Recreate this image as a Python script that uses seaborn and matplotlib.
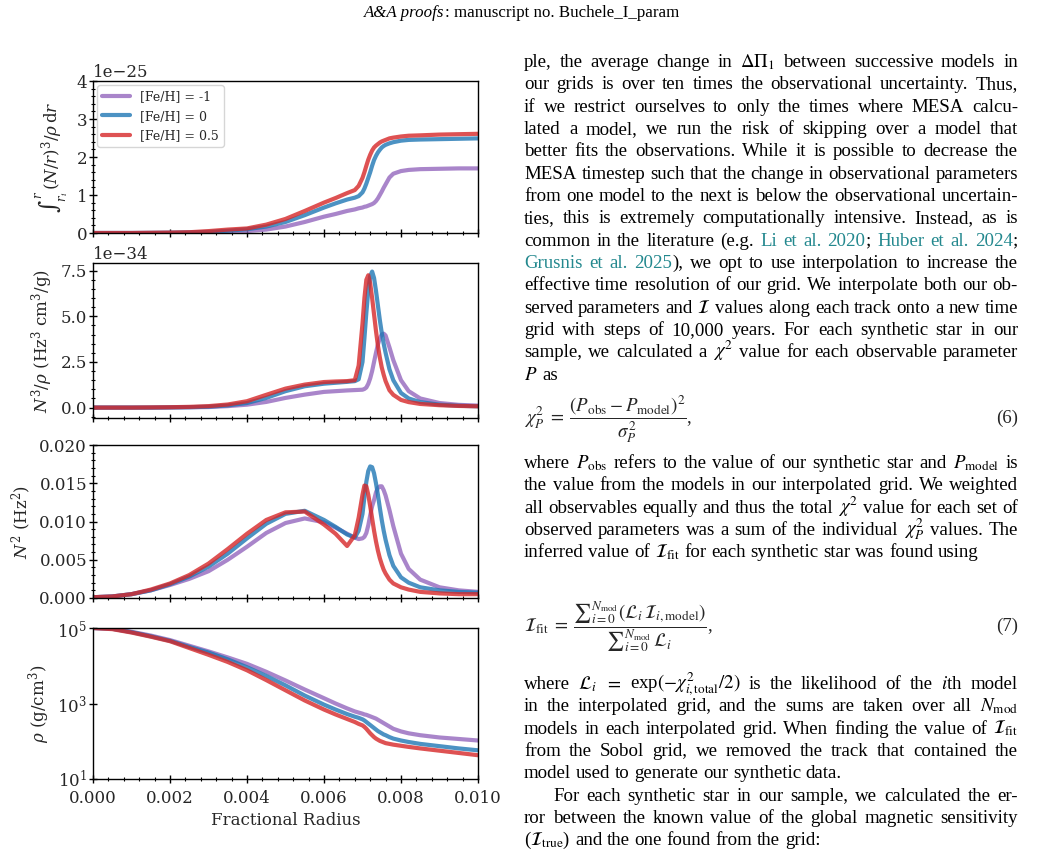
import numpy as np
import pandas as pd
import matplotlib
matplotlib.use('Agg')
import matplotlib.pyplot as plt
from matplotlib.ticker import MultipleLocator, NullLocator, NullFormatter
import seaborn as sns

# fractional radius grid (shared by every profile)
r = [0, 0.0005, 0.001, 0.0015, 0.002, 0.0025, 0.003, 0.0035, 0.004, 0.0045,
     0.005, 0.0055, 0.006, 0.0063, 0.0066, 0.0068, 0.0069,
     0.0070, 0.00705, 0.0071, 0.00715, 0.0072, 0.00725, 0.0073, 0.00735,
     0.0074, 0.00745, 0.0075, 0.00755, 0.0076,
     0.0077, 0.0078, 0.0080, 0.0082, 0.0085, 0.009, 0.0095, 0.010]

labels = ['[Fe/H] = -1', '[Fe/H] = 0', '[Fe/H] = 0.5']
colors = ['tab:purple', 'tab:blue', 'tab:red']

# integral of (N/r)^3/rho dr, units of 1e-25
int_m1 = [0, 0, 0, 0.002, 0.005, 0.01, 0.02, 0.035, 0.05, 0.09,
          0.17, 0.29, 0.43, 0.5, 0.58, 0.62, 0.65,
          0.67, 0.69, 0.70, 0.72, 0.74, 0.76, 0.79, 0.84,
          0.91, 1.0, 1.09, 1.19, 1.28,
          1.46, 1.56, 1.63, 1.66, 1.68, 1.69, 1.70, 1.70]
int_0 = [0, 0, 0, 0.003, 0.007, 0.015, 0.03, 0.06, 0.1, 0.17,
         0.29, 0.47, 0.67, 0.78, 0.88, 0.93, 0.97,
         1.07, 1.17, 1.30, 1.45, 1.60, 1.77, 1.92, 2.03,
         2.12, 2.19, 2.25, 2.29, 2.32,
         2.36, 2.39, 2.43, 2.45, 2.46, 2.47, 2.48, 2.49]
int_p05 = [0, 0, 0, 0.005, 0.01, 0.02, 0.05, 0.09, 0.12, 0.22,
           0.37, 0.58, 0.80, 0.92, 1.05, 1.13, 1.24,
           1.45, 1.60, 1.77, 1.93, 2.06, 2.17, 2.25, 2.30,
           2.34, 2.38, 2.41, 2.43, 2.45,
           2.49, 2.51, 2.54, 2.56, 2.57, 2.59, 2.60, 2.61]

# N^3/rho, units of 1e-34
n3_m1 = [0, 0, 0, 0, 0.01, 0.02, 0.03, 0.08, 0.16, 0.31,
         0.53, 0.71, 0.86, 0.90, 0.94, 0.96, 0.97,
         0.98, 1.02, 1.10, 1.30, 1.60, 2.0, 2.5, 3.0,
         3.45, 3.8, 4.0, 4.05, 3.95,
         3.3, 2.6, 1.5, 0.9, 0.5, 0.25, 0.15, 0.11]
n3_0 = [0, 0, 0, 0, 0.01, 0.02, 0.05, 0.12, 0.25, 0.53,
        0.90, 1.17, 1.31, 1.36, 1.41, 1.45, 1.55,
        2.5, 3.8, 5.2, 6.4, 7.2, 7.45, 7.1, 6.4,
        5.6, 4.8, 4.1, 3.5, 3.0,
        2.1, 1.5, 0.8, 0.5, 0.3, 0.16, 0.1, 0.07]
n3_p05 = [0, 0, 0, 0.01, 0.02, 0.04, 0.08, 0.17, 0.35, 0.70,
          1.04, 1.26, 1.40, 1.43, 1.45, 1.50, 2.3,
          4.6, 6.0, 7.0, 7.25, 6.8, 6.0, 5.1, 4.2,
          3.4, 2.75, 2.2, 1.8, 1.45,
          0.95, 0.7, 0.42, 0.3, 0.2, 0.13, 0.09, 0.07]

# N^2 (Hz^2)
n2_m1 = [0.0001, 0.0002, 0.0005, 0.001, 0.0017, 0.0025, 0.0035, 0.005, 0.0067, 0.0085,
         0.0098, 0.0104, 0.0099, 0.0092, 0.0084, 0.0079, 0.0077,
         0.0078, 0.0080, 0.0085, 0.0095, 0.0108, 0.0120, 0.0128, 0.0138,
         0.0144, 0.0146, 0.0146, 0.0141, 0.0134,
         0.0115, 0.0094, 0.0058, 0.0038, 0.0024, 0.0014, 0.0010, 0.0008]
n2_0 = [0.0001, 0.0002, 0.0005, 0.001, 0.0018, 0.0028, 0.0041, 0.0058, 0.0078, 0.0097,
        0.0110, 0.0114, 0.0102, 0.0093, 0.0083, 0.0079, 0.0088,
        0.0110, 0.0132, 0.0152, 0.0166, 0.0172, 0.0171, 0.0163, 0.0150,
        0.0135, 0.0118, 0.0102, 0.0088, 0.0076,
        0.0056, 0.0042, 0.0027, 0.0020, 0.0014, 0.0010, 0.0008, 0.0007]
n2_p05 = [0.0001, 0.0002, 0.0005, 0.0011, 0.0019, 0.003, 0.0045, 0.0064, 0.0084, 0.0102,
          0.0112, 0.0113, 0.0096, 0.0084, 0.0068, 0.0082, 0.0105,
          0.0135, 0.0147, 0.0146, 0.0135, 0.0120, 0.0104, 0.0088, 0.0074,
          0.0062, 0.0052, 0.0044, 0.0037, 0.0032,
          0.0024, 0.0019, 0.0014, 0.0011, 0.0008, 0.0006, 0.0005, 0.0005]

# log10 of density (g/cm^3)
logrho_m1 = [5.0, 4.98, 4.90, 4.80, 4.68, 4.53, 4.38, 4.22, 4.05, 3.84,
             3.61, 3.37, 3.14, 3.00, 2.87, 2.79, 2.76,
             2.73, 2.71, 2.70, 2.68, 2.66, 2.64, 2.62, 2.60,
             2.57, 2.54, 2.51, 2.48, 2.45,
             2.39, 2.33, 2.26, 2.21, 2.16, 2.10, 2.06, 2.02]
logrho_0 = [5.0, 4.98, 4.89, 4.78, 4.66, 4.50, 4.35, 4.17, 3.96, 3.73,
            3.48, 3.21, 2.97, 2.84, 2.72, 2.65, 2.62,
            2.58, 2.55, 2.51, 2.47, 2.43, 2.39, 2.35, 2.31,
            2.27, 2.24, 2.21, 2.18, 2.16,
            2.11, 2.07, 2.02, 1.98, 1.93, 1.87, 1.81, 1.76]
logrho_p05 = [5.0, 4.97, 4.88, 4.77, 4.65, 4.47, 4.29, 4.10, 3.88, 3.62,
              3.35, 3.08, 2.84, 2.71, 2.59, 2.51, 2.46,
              2.42, 2.38, 2.33, 2.27, 2.21, 2.16, 2.11, 2.07,
              2.04, 2.01, 1.99, 1.97, 1.95,
              1.93, 1.91, 1.88, 1.85, 1.81, 1.75, 1.69, 1.63]

panels = [
    ([int_m1, int_0, int_p05], 1e-25),
    ([n3_m1, n3_0, n3_p05], 1e-34),
    ([n2_m1, n2_0, n2_p05], 1.0),
    ([logrho_m1, logrho_0, logrho_p05], None),
]

ylabels = [r'$\int_{r_i}^{r}\,(N/r)^3/\rho\,\mathrm{d}r$',
           r'$N^3/\rho$ (Hz$^3$ cm$^3$/g)',
           r'$N^2$ (Hz$^2$)',
           r'$\rho$ (g/cm$^3$)']

sns.set_style('ticks')
plt.rcParams['font.family'] = ['DejaVu Serif']
plt.rcParams['mathtext.fontset'] = 'dejavuserif'
plt.rcParams['axes.edgecolor'] = 'black'
plt.rcParams['axes.linewidth'] = 1.0

W, H = 1043, 857
fig = plt.figure(figsize=(W / 100, H / 100), dpi=100)

# axes boxes in pixels: (top, bottom)
boxes = [(81, 233), (263, 418), (445, 598), (628, 779)]
axes = []
for top, bot in boxes:
    ax = fig.add_axes([93 / W, 1 - bot / H, (478 - 93) / W, (bot - top) / H])
    axes.append(ax)

for i, (ax, (series, scale)) in enumerate(zip(axes, panels)):
    for j, vals in enumerate(series):
        v = np.array(vals)
        y = 10 ** v if scale is None else v * scale
        df = pd.DataFrame({'r': r, 'v': y})
        kw = {'label': labels[j]} if i == 0 else {}
        sns.lineplot(data=df, x='r', y='v', color=colors[j], linewidth=3,
                     alpha=0.8, ax=ax, **kw)
    ax.set_xlim(0, 0.01)
    ax.set_ylabel(ylabels[i], fontsize=12)
    ax.set_xlabel('')
    ax.xaxis.set_major_locator(MultipleLocator(0.002))
    ax.xaxis.set_minor_locator(MultipleLocator(0.0004))
    ax.tick_params(which='both', direction='inout', labelsize=12,
                   top=False, right=False, color='black')
    ax.tick_params(which='major', length=5.5, width=1)
    ax.tick_params(which='minor', length=3.2, width=0.8)
    ax.tick_params(axis='y', which='both', pad=1.5)
    ax.tick_params(axis='x', which='both', pad=5)
    if i < 3:
        ax.xaxis.set_major_formatter(NullFormatter())
    ax.yaxis.get_offset_text().set_fontsize(12)

axes[0].set_ylim(0, 4e-25)
axes[0].yaxis.set_major_locator(MultipleLocator(1e-25))
axes[0].yaxis.set_minor_locator(MultipleLocator(0.2e-25))
axes[1].set_ylim(-0.57e-34, 7.92e-34)
axes[1].yaxis.set_major_locator(MultipleLocator(2.5e-34))
axes[1].yaxis.set_minor_locator(MultipleLocator(0.5e-34))
axes[2].set_ylim(0, 0.02)
axes[2].yaxis.set_major_locator(MultipleLocator(0.005))
axes[2].yaxis.set_minor_locator(MultipleLocator(0.001))
axes[3].set_yscale('log')
axes[3].set_ylim(10, 1e5)
axes[3].set_yticks([10, 1e3, 1e5])
axes[3].yaxis.set_minor_locator(NullLocator())
axes[3].set_xlabel('Fractional Radius', fontsize=12)
axes[3].set_xticks([0, 0.002, 0.004, 0.006, 0.008, 0.010])
axes[3].set_xticklabels(['0.000', '0.002', '0.004', '0.006', '0.008', '0.010'])

axes[0].legend(loc='upper left', fontsize=9, borderaxespad=0.35,
               handlelength=2.2, frameon=True)
fig.align_ylabels(axes)

# ---------------- page text on the right ----------------
renderer = fig.canvas.get_renderer()
INK = 'black'
LINK = '#23888e'
FS = 13.6
LEFT, RIGHT = 524, 1018


def parse(line):
    words, pieces, buf = [], [], ''
    color, math = INK, False
    for ch in line:
        if ch == '$':
            math = not math
            buf += ch
        elif ch in '«»' and not math:
            if buf:
                pieces.append((buf, color))
                buf = ''
            color = LINK if ch == '«' else INK
        elif ch == ' ' and not math:
            if buf:
                pieces.append((buf, color))
                buf = ''
            if pieces:
                words.append(pieces)
                pieces = []
        else:
            buf += ch
    if buf:
        pieces.append((buf, color))
    if pieces:
        words.append(pieces)
    return words


def make(s, color, size, style='normal'):
    return fig.text(0, 0, s, color=color, fontsize=size,
                    family='Liberation Serif', style=style,
                    math_fontfamily='stix', va='baseline')


def set_line(line, y, left, justify, size=FS):
    words = parse(line)
    arts = []
    total = 0
    for w in words:
        wa = []
        for s, c in w:
            t = make(s, c, size)
            wa.append((t, t.get_window_extent(renderer).width))
        arts.append(wa)
        total += sum(b for _, b in wa)
    space = 0.25 * size * 100 / 72
    if justify and len(arts) > 1:
        space = (RIGHT - left - total) / (len(arts) - 1)
    x = left
    for wa in arts:
        for t, b in wa:
            t.set_position((x / W, 1 - y / H))
            x += b
        x += space


text_top = [
    ('ple, the average change in $\\Delta\\Pi_1$ between successive models in', True),
    ('our grids is over ten times the observational uncertainty. Thus,', True),
    ('if we restrict ourselves to only the times where MESA calcu-', True),
    ('lated a model, we run the risk of skipping over a model that', True),
    ('better fits the observations. While it is possible to decrease the', True),
    ('MESA timestep such that the change in observational parameters', True),
    ('from one model to the next is below the observational uncertain-', True),
    ('ties, this is extremely computationally intensive. Instead, as is', True),
    ('common in the literature (e.g. «Li et al. 2020»; «Huber et al. 2024»;', True),
    ('«Grusnis et al. 2025»), we opt to use interpolation to increase the', True),
    ('effective time resolution of our grid. We interpolate both our ob-', True),
    ('served parameters and $\\mathcal{I}$ values along each track onto a new time', True),
    ('grid with steps of 10,000 years. For each synthetic star in our', True),
    ('sample, we calculated a $\\chi^2$ value for each observable parameter', True),
    ('$P$ as', False),
]
text_mid = [
    ('where $P_{\\rm obs}$ refers to the value of our synthetic star and $P_{\\rm model}$ is', True),
    ('the value from the models in our interpolated grid. We weighted', True),
    ('all observables equally and thus the total $\\chi^2$ value for each set of', True),
    ('observed parameters was a sum of the individual $\\chi^2_P$ values. The', True),
    ('inferred value of $\\mathcal{I}_{\\rm fit}$ for each synthetic star was found using', False),
]
text_bot = [
    ('where $\\mathcal{L}_i$ $=$ exp$(-\\chi^2_{i,\\rm total}/2)$ is the likelihood of the $i$th model', True, 0),
    ('in the interpolated grid, and the sums are taken over all $N_{\\rm mod}$', True, 0),
    ('models in each interpolated grid. When finding the value of $\\mathcal{I}_{\\rm fit}$', True, 0),
    ('from the Sobol grid, we removed the track that contained the', True, 0),
    ('model used to generate our synthetic data.', False, 0),
    ('For each synthetic star in our sample, we calculated the er-', True, 29),
    ('ror between the known value of the global magnetic sensitivity', True, 0),
    ('($\\mathcal{I}_{\\rm true}$) and the one found from the grid:', False, 0),
]

LS = 22.33
for k, (s, j) in enumerate(text_top):
    set_line(s, 67 + LS * k, LEFT, j)
for k, (s, j) in enumerate(text_mid):
    set_line(s, 468 + LS * k, LEFT, j)
for k, (s, j, ind) in enumerate(text_bot):
    set_line(s, 689 + LS * k, LEFT + ind, j)

eq6 = r'$\chi^2_P\;=\;\dfrac{(P_{\rm obs}-P_{\rm model})^2}{\sigma^2_P}$,'
eq7 = (r'$\mathcal{I}_{\rm fit}\;=\;\dfrac{{\sum}_{i=0}^{N_{\rm mod}}'
       r'(\mathcal{L}_i\,\mathcal{I}_{i,\rm model})}'
       r'{{\sum}_{i=0}^{N_{\rm mod}}\,\mathcal{L}_i}$,')
for eq, num, yc in [(eq6, '(6)', 419), (eq7, '(7)', 627)]:
    fig.text(LEFT / W, 1 - yc / H, eq, fontsize=FS, family='Liberation Serif',
             math_fontfamily='stix', va='center', ha='left')
    fig.text(RIGHT / W, 1 - (yc + 4) / H, num, fontsize=FS,
             family='Liberation Serif', va='baseline', ha='right')

# running head
hs = 12.2
h1 = make('A&A proofs', INK, hs, style='italic')
h2 = make(': manuscript no. Buchele_I_param', INK, hs)
w1 = h1.get_window_extent(renderer).width
w2 = h2.get_window_extent(renderer).width
x0 = 521 - (w1 + w2) / 2
h1.set_position((x0 / W, 1 - 17 / H))
h2.set_position(((x0 + w1 + 1) / W, 1 - 17 / H))

fig.savefig('out.png', dpi=100)
